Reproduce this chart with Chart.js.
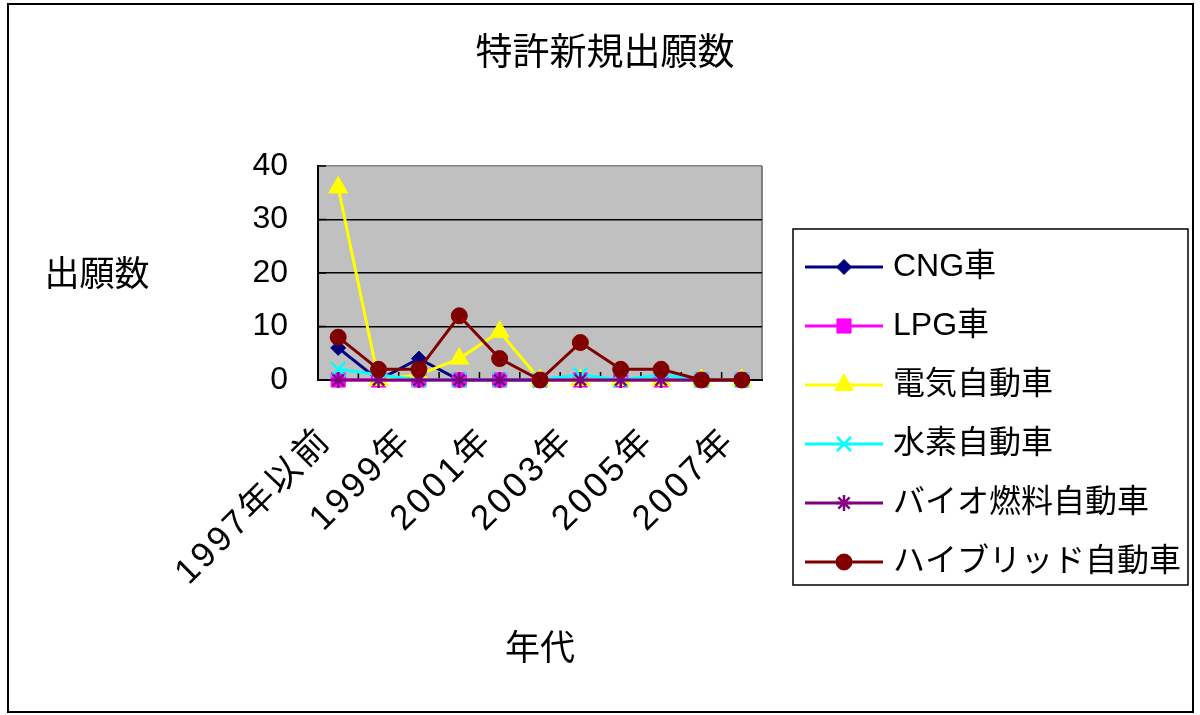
<!DOCTYPE html>
<html>
<head>
<meta charset="utf-8">
<script src="https://cdn.jsdelivr.net/npm/chart.js@4.4.0/dist/chart.umd.min.js"></script>
<style>
  html, body { margin: 0; padding: 0; background: #fff; }
  #wrap { width: 1200px; height: 715px; }
</style>
</head>
<body>
<div id="wrap"><canvas id="patentChart" width="1200" height="715"></canvas></div>
<script>
// 年代ごとの特許新規出願数
const years = ['1997年以前', '1998年', '1999年', '2000年', '2001年', '2002年',
               '2003年', '2004年', '2005年', '2006年', '2007年'];
const cng      = [6, 0, 4, 0, 0, 0, 0, 0, 0, 0, 0];
const lpg      = [0, 0, 0, 0, 0, 0, 0, 0, 0, 0, 0];
const electric = [36, 0, 1, 4, 9, 0, 0, 0, 0, 0, 0];
const hydrogen = [2, 1, 0, 0, 0, 0, 1, 0, 1, 0, 0];
const biofuel  = [0, 0, 0, 0, 0, 0, 0, 0, 0, 0, 0];
const hybrid   = [8, 2, 2, 12, 4, 0, 7, 2, 2, 0, 0];
const yTicks   = [0, 10, 20, 30, 40];

const FONT = '"Liberation Sans", "Noto Sans CJK JP", sans-serif';
Chart.defaults.font.family = FONT;
Chart.defaults.color = '#000';

function series(label, data, color, style, radius, idx) {
    const hollow = style === 'crossRot' || style === 'star';
    return {
        label: label,
        data: data,
        borderColor: color,
        backgroundColor: color,
        borderWidth: 3,
        pointStyle: style,
        pointRadius: radius,
        pointBorderWidth: hollow ? 2.5 : 1,
        pointBackgroundColor: color,
        pointBorderColor: color,
        tension: 0,
        clip: false,
        order: 5 - idx   // 後の系列ほど手前に描く
    };
}

const datasets = [
    series('CNG車', cng, '#000080', 'rectRot', 7.5, 0),
    series('LPG車', lpg, '#FF00FF', 'rect', 10, 1),
    series('電気自動車', electric, '#FFFF00', 'triangle', 11, 2),
    series('水素自動車', hydrogen, '#00FFFF', 'crossRot', 10, 3),
    series('バイオ燃料自動車', biofuel, '#800080', 'star', 8, 4),
    series('ハイブリッド自動車', hybrid, '#800000', 'circle', 8, 5)
];

// 外枠・プロットエリア背景・目盛り・縦軸タイトル・凡例
const decor = {
    id: 'decor',
    beforeDraw(chart) {
        const {ctx, chartArea: a, scales: {x}} = chart;
        // 横軸ラベルは字間を少し空ける
        if (!x._spaced) {
            const drawLabels = x.drawLabels.bind(x);
            x.drawLabels = function (area) {
                ctx.save();
                ctx.letterSpacing = '3px';
                drawLabels(area);
                ctx.restore();
            };
            x._spaced = true;
        }
        ctx.save();
        ctx.fillStyle = '#C0C0C0';
        ctx.fillRect(a.left, a.top, a.right - a.left, a.bottom - a.top);
        ctx.strokeStyle = '#808080';
        ctx.lineWidth = 2;
        ctx.beginPath();
        ctx.moveTo(a.right, a.top);
        ctx.lineTo(a.right, a.bottom);
        ctx.stroke();
        ctx.restore();
    },
    beforeDatasetsDraw(chart) {
        const {ctx, chartArea: a, scales: {x, y}} = chart;
        ctx.save();
        ctx.strokeStyle = '#000';
        ctx.lineWidth = 1.5;
        ctx.beginPath();
        for (let i = 1; i < years.length; i++) {
            const px = (x.getPixelForValue(i - 1) + x.getPixelForValue(i)) / 2;
            ctx.moveTo(px, a.bottom);
            ctx.lineTo(px, a.bottom - 8);
        }
        yTicks.forEach(v => {
            const py = y.getPixelForValue(v);
            ctx.moveTo(a.left, py);
            ctx.lineTo(a.left + 8, py);
        });
        ctx.stroke();
        ctx.restore();
    },
    afterDraw(chart) {
        const {ctx, chartArea: a} = chart;
        ctx.save();
        // 縦軸タイトル（横書き）
        ctx.fillStyle = '#000';
        ctx.font = '35px ' + FONT;
        ctx.textAlign = 'center';
        ctx.textBaseline = 'middle';
        ctx.fillText('出願数', 97, (a.top + a.bottom) / 2 + 3);

        // 凡例
        const box = {left: 793, top: 229, right: 1188, bottom: 585};
        ctx.strokeStyle = '#000';
        ctx.lineWidth = 1.5;
        ctx.strokeRect(box.left, box.top, box.right - box.left, box.bottom - box.top);
        const rowH = 59, firstY = 267;
        chart.data.datasets.forEach((ds, i) => {
            const cy = firstY + i * rowH;
            ctx.strokeStyle = ds.borderColor;
            ctx.lineWidth = 3;
            ctx.beginPath();
            ctx.moveTo(805, cy);
            ctx.lineTo(883, cy);
            ctx.stroke();
            ctx.fillStyle = ds.pointBackgroundColor;
            ctx.strokeStyle = ds.pointBorderColor;
            ctx.lineWidth = ds.pointBorderWidth;
            Chart.helpers.drawPoint(ctx, {
                pointStyle: ds.pointStyle,
                radius: ds.pointRadius,
                borderWidth: ds.pointBorderWidth,
                rotation: 0
            }, 844, cy);
            ctx.fillStyle = '#000';
            ctx.font = '32px ' + FONT;
            ctx.textAlign = 'left';
            ctx.textBaseline = 'middle';
            ctx.fillText(ds.label, 893, cy);
        });

        // 外枠
        ctx.strokeStyle = '#000';
        ctx.lineWidth = 2;
        ctx.strokeRect(8, 4, 1185, 708);
        ctx.restore();
    }
};

new Chart(document.getElementById('patentChart'), {
    type: 'line',
    data: { labels: years, datasets: datasets },
    options: {
        responsive: false,
        animation: false,
        devicePixelRatio: 1,
        layout: { padding: { left: 10, right: 0, top: 0, bottom: 0 } },
        plugins: {
            legend: { display: false },
            tooltip: { enabled: false },
            title: {
                display: true,
                text: '特許新規出願数',
                color: '#000',
                font: { size: 37, weight: 'normal' },
                padding: { top: 33, bottom: 88.6 }
            }
        },
        scales: {
            x: {
                type: 'category',
                offset: true,
                grid: { display: false },
                border: { display: true, color: '#000', width: 2 },
                ticks: {
                    autoSkip: false,
                    maxRotation: 45,
                    minRotation: 45,
                    labelOffset: -12,
                    padding: 32,
                    font: { size: 35 },
                    color: '#000',
                    // 1年おきにラベルを表示
                    callback: (v, i) => (i % 2 === 0 ? years[i] : '')
                },
                title: {
                    display: true,
                    text: '年代',
                    color: '#000',
                    font: { size: 35 },
                    padding: { top: 0, bottom: 44 }
                },
                afterFit: s => { s.height = 335; }
            },
            y: {
                min: 0,
                max: 40,
                grid: {
                    drawTicks: false,
                    lineWidth: 1.5,
                    color: c => (c.tick.value === 40 ? '#808080' : '#000')
                },
                border: { display: true, color: '#000', width: 2 },
                ticks: {
                    stepSize: 10,
                    padding: 30,
                    font: { size: 32 },
                    color: '#000'
                },
                afterFit: s => { s.width = 308; }
            },
            legendSpace: {
                type: 'linear',
                position: 'right',
                display: true,
                grid: { display: false },
                border: { display: false },
                ticks: { display: false },
                afterFit: s => { s.width = 438; }
            }
        }
    },
    plugins: [decor]
});
</script>
</body>
</html>
